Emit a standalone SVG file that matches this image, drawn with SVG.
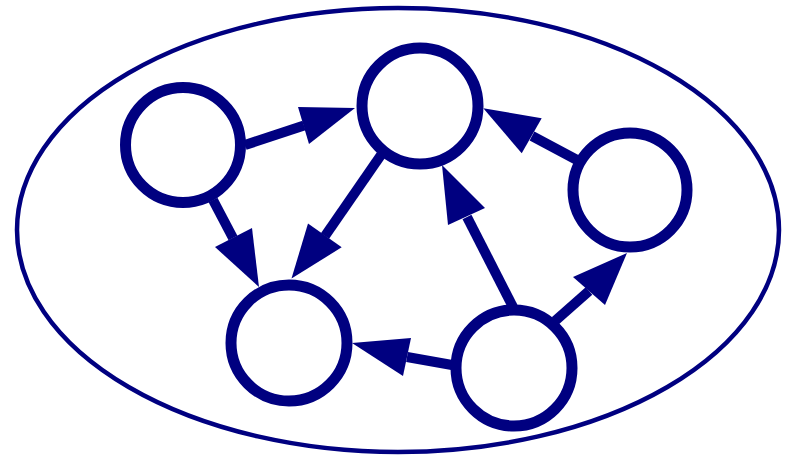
<svg xmlns="http://www.w3.org/2000/svg" width="792" height="457" viewBox="0 0 792 457">
<style>
.frame{fill:none;stroke:#000080;stroke-width:4.5}
.node{fill:#fff;stroke:#000080;stroke-width:11}
.edge{stroke:#000080;stroke-width:10;fill:none}
.head{fill:#000080;stroke:none}
</style>
<rect width="792" height="457" fill="#fff"/>
<ellipse class="frame" cx="398" cy="230" rx="381" ry="222"/>
<g id="connectors">
<line class="edge" x1="245" y1="145" x2="304" y2="125.5"/>
<polygon class="head" points="298,107 355,108 309,144"/>
<line class="edge" x1="213" y1="200" x2="233" y2="238"/>
<polygon class="head" points="215,247 259,287 252,228"/>
<line class="edge" x1="381" y1="155" x2="325" y2="236"/>
<polygon class="head" points="308,223.5 291.5,278.5 341.7,247.3"/>
<line class="edge" x1="513" y1="307" x2="467" y2="217"/>
<polygon class="head" points="448,225 442,165 485,208"/>
<line class="edge" x1="577" y1="160" x2="532" y2="136"/>
<polygon class="head" points="541.7,118.3 483.3,108.3 521.7,153.3"/>
<line class="edge" x1="555" y1="321" x2="589" y2="291"/>
<polygon class="head" points="573,277 627,253 605,305"/>
<line class="edge" x1="452" y1="365" x2="407" y2="357"/>
<polygon class="head" points="411,338 352,343 403,376"/>
</g>
<g id="n1"><circle class="node" cx="183" cy="145" r="57.5"/></g>
<g id="n2"><circle class="node" cx="420" cy="106" r="58"/></g>
<g id="n3"><circle class="node" cx="630" cy="190" r="57"/></g>
<g id="n4"><circle class="node" cx="289" cy="343" r="58"/></g>
<g id="n5"><circle class="node" cx="514" cy="368" r="58"/></g>
</svg>
